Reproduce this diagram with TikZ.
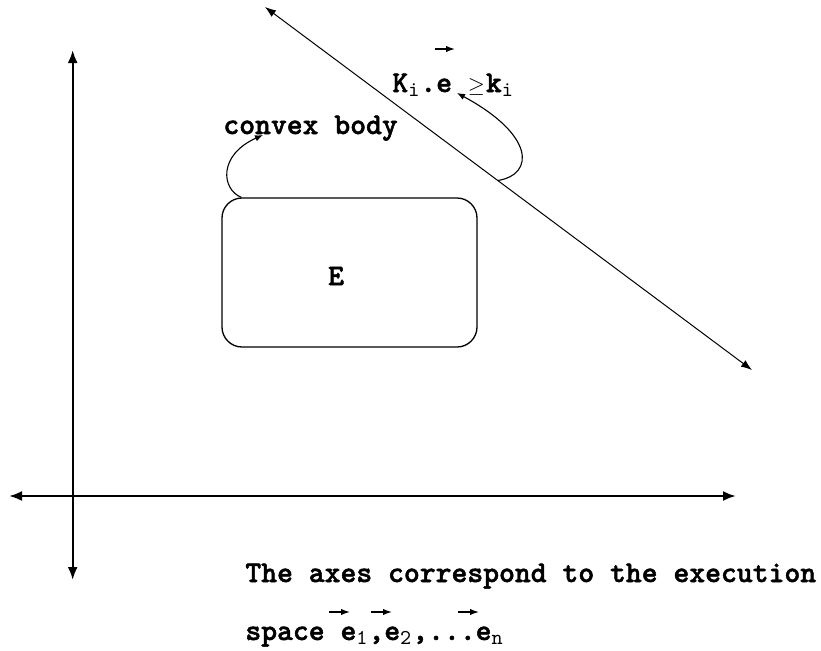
\documentclass[tikz,border=0pt]{standalone}
\usepackage{fontspec}
\newfontfamily\courbd{lmmonolt10-bold.otf}[FakeBold=1.6]
\usepackage{tikz}
\usetikzlibrary{arrows.meta,calc}
\tikzset{
  axisline/.style={line width=1.15pt,{Latex[length=6.5pt,width=5pt]}-{Latex[length=6.5pt,width=5pt]}},
  hyperplane/.style={line width=0.5pt,{Latex[length=5.5pt,width=4pt]}-{Latex[length=5.5pt,width=4pt]}},
  curvearr/.style={line width=0.55pt,-{Latex[length=4pt,width=3.2pt]}},
  vecarr/.style={line width=0.65pt,-{Latex[length=4.5pt,width=3.2pt]}},
  lbl/.style={font=\courbd\fontsize{15.1}{17}\selectfont,inner sep=0pt,anchor=base west}
}
\newcommand{\lsub}[1]{\textsubscript{\ttfamily\mdseries #1}}

\begin{document}
\begin{tikzpicture}[x=0.5pt,y=-0.5pt,>=Latex]
  \useasboundingbox (0,0) rectangle (821,650);
  \coordinate (ytop) at (72.7,50);
  \coordinate (ybot) at (72.7,580);
  \coordinate (xleft) at (9,496);
  \coordinate (xright) at (736,496);
  \draw[axisline] (ybot) -- (ytop);
  \draw[axisline] (xleft) -- (xright);
  \coordinate (hA) at (265,7);
  \coordinate (hB) at (752,370);
  \draw[hyperplane] (hA) -- (hB);
  \node[draw,line width=0.65pt,rounded corners=10pt,minimum width=127.5pt,minimum height=74.5pt] (body) at (349.5,272.5) {};
  \node[font=\courbd\fontsize{15.1}{17}\selectfont,inner sep=0pt] (elbl) at (336,276) {E};
  \node[lbl] (convex) at (223,134) {convex body};
  \node[lbl] (cond) at (392,92) {K\lsub{i}.e {\fontsize{11}{12}\selectfont$\geq$}\kern0.5pt k\lsub{i}};
  \draw[curvearr] ($(body.north west)+(20,0)$) .. controls +(-20,-8) and +(-45,20) .. ($(convex.base west)+(40,1)$);
  \draw[curvearr] ($(hA)!0.478!(hB)$) .. controls +(37,-6) and +(78,42) .. ($(cond.base west)+(65,1)$);
  \draw[vecarr] (435,49) -- (455,49);
  \node[lbl] (axtxt) at (245,582) {The axes correspond to the execution};
  \node[lbl] (sptxt) at (245,640) {space e\lsub{1},e\lsub{2},...e\lsub{n}};
  \foreach \x in {329,371,458} { \draw[vecarr] (\x,612) -- (\x+21,612); }
\end{tikzpicture}
\end{document}
